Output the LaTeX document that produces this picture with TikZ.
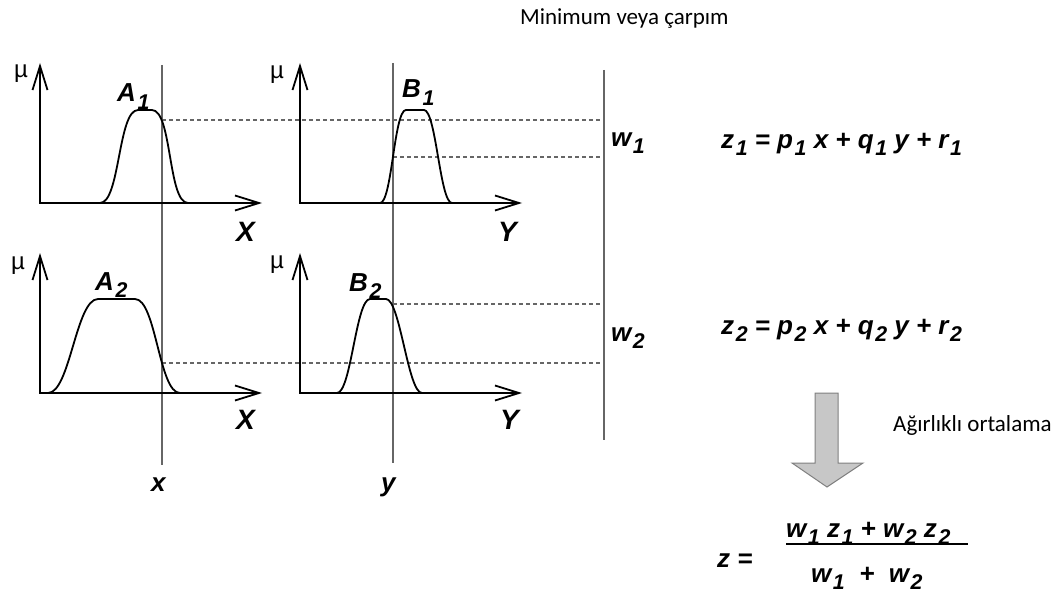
\documentclass[tikz,border=0pt]{standalone}
\usepackage{fontspec}
\setmainfont{Liberation Sans}
\newfontfamily\carl{Carlito}
\usetikzlibrary{arrows.meta}
\newcommand\lsub[1]{\kern0.06em\raisebox{-0.3em}{\scalebox{0.82}{#1}}}
\tikzset{
  barb/.tip={Straight Barb[length=24pt,width=15pt,line width=1.8pt]},
  axisline/.style={line width=1.8pt, barb-barb, line join=miter},
  mf/.style={line width=1.8pt, line join=round},
  guide/.style={draw=black!60, line width=1.4pt},
  dashline/.style={draw=black!60, line width=1.1pt, dash pattern=on 4pt off 3pt},
  lab/.style={inner sep=0pt, anchor=base west, font=\fontsize{26}{28}\selectfont\bfseries\itshape},
  axlab/.style={inner sep=0pt, anchor=base west, font=\fontsize{28}{30}\selectfont\bfseries\itshape},
  mu/.style={inner sep=0pt, font=\fontsize{24}{26}\selectfont},
  note/.style={inner sep=0pt, anchor=base west, font=\carl\fontsize{23}{26}\selectfont},
  blockarrow/.style={fill=black!22, draw=black!50, line width=1pt, line join=miter}
}
\begin{document}
\begin{tikzpicture}[x=1pt,y=-1pt]
\useasboundingbox (0,0) rectangle (1064,599);

% vertical guide lines
\draw[guide] (162,65) -- (162,465);
\draw[guide] (393,63) -- (393,463);
\draw[guide] (604,70) -- (604,440);

% dashed level lines
\draw[dashline] (162,120) -- (604,120);
\draw[dashline] (393,157) -- (604,157);
\draw[dashline] (393,304) -- (604,304);
\draw[dashline] (162,363) -- (604,363);

% axes
\draw[axisline] (40,63) -- (40,203) -- (262,203);
\draw[axisline] (300,63) -- (300,203) -- (522,203);
\draw[axisline] (40,253) -- (40,393) -- (262,393);
\draw[axisline] (300,253) -- (300,393) -- (522,393);

% membership functions
\draw[mf] (87,203) -- (100,203) .. controls (120,203) and (118,110) .. (138,110) -- (152,110) .. controls (172,110) and (168,203) .. (188,203) -- (192,203);
\draw[mf] (373,203) -- (380,203) .. controls (392,203) and (394,110) .. (406,110) -- (424,110) .. controls (436,110) and (440,203) .. (452,203) -- (458,203);
\draw[mf] (40,393) -- (48,393) .. controls (70,393) and (76,299) .. (98,299) -- (135,299) .. controls (156,299) and (159,393) .. (180,393) -- (197,393);
\draw[mf] (323,393) -- (337,393) .. controls (351,393) and (356,299) .. (370,299) -- (386,299) .. controls (400,299) and (408,393) .. (422,393) -- (437,393);

% mu labels
\node[mu] (mu1) at (21,74) {µ};
\node[mu] (mu2) at (277,75) {µ};
\node[mu] (mu3) at (18,266) {µ};
\node[mu] (mu4) at (277,265) {µ};

% set labels
\node[lab] (A1) at (117,102) {A\lsub{1}};
\node[lab] (B1) at (402,98) {B\lsub{1}};
\node[lab] (A2) at (95,290) {A\lsub{2}};
\node[lab] (B2) at (349,291) {B\lsub{2}};

% axis labels
\node[axlab] (X1) at (236,241) {X};
\node[axlab] (Y1) at (498,241) {Y};
\node[axlab] (X2) at (236,429) {X};
\node[axlab] (Y2) at (500,429) {Y};
\node[lab] (xin) at (151,491) {x};
\node[lab] (yin) at (381,491) {y};

% weights
\node[lab] (w1) at (611,146) {w\lsub{1}};
\node[lab] (w2) at (611,341) {w\lsub{2}};

% rule outputs
\node[lab] (z1) at (721,148) {z\lsub{1} = p\lsub{1} x + q\lsub{1} y + r\lsub{1}};
\node[lab] (z2) at (721,334) {z\lsub{2} = p\lsub{2} x + q\lsub{2} y + r\lsub{2}};

% notes
\node[note] (minprod) at (520,25) {Minimum veya çarpım};
\node[note] (wavg) at (893,431) {Ağırlıklı ortalama};

% block arrow
\draw[blockarrow] (815,393) -- (838,393) -- (838,463) -- (863,463) -- (827,487) -- (792,463) -- (815,463) -- cycle;

% final output
\node[lab] (zeq) at (717,567) {z =};
\node[lab] (num) at (786,537) {w\lsub{1} z\lsub{1} + w\lsub{2} z\lsub{2}};
\node[lab] (den) at (811,582) {w\lsub{1} \ + \ w\lsub{2}};
\coordinate (fl) at (786,544);
\coordinate (fr) at (968,544);
\draw[line width=1.3pt] (fl) -- (fr);
\end{tikzpicture}
\end{document}
